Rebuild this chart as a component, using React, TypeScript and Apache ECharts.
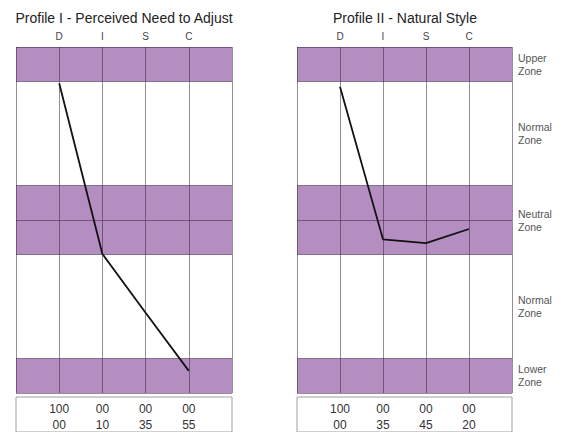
import React, { useEffect, useRef } from "react";
import * as echarts from "echarts";

const categories = ["D", "I", "S", "C"];
const zoneLabels = ["Upper\nZone", "Normal\nZone", "Neutral\nZone", "Normal\nZone", "Lower\nZone"];
const zonePositions = [0.5, 2.5, 5, 7.5, 9.5];
const bandRanges = [[0, 1], [4, 5], [5, 6], [9, 10]];
const gridLineLevels = [0, 1, 4, 5, 6, 9, 10];
const columnLines = [0, 1, 2, 3, 4, 5];

const profile1 = [1.05, 5.98, 7.68, 9.36];
const profile2 = [1.15, 5.56, 5.67, 5.26];

const profile1Row1 = ["100", "00", "00", "00"];
const profile1Row2 = ["00", "10", "35", "55"];
const profile2Row1 = ["100", "00", "00", "00"];
const profile2Row2 = ["00", "35", "45", "20"];

const titles = ["Profile I - Perceived Need to Adjust", "Profile II - Natural Style"];

const FONT = "'Liberation Sans', Arial, sans-serif";
const PURPLE = "#b48ec0";
const GRIDLINE = "rgba(50,25,55,0.5)";

export default function App() {
  const ref = useRef<HTMLDivElement>(null);

  useEffect(() => {
    if (!ref.current) return;
    const chart = echarts.init(ref.current, undefined, { renderer: "svg" });

    const grids = [
      { left: 16, top: 47, width: 216, height: 346 },
      { left: 297, top: 47, width: 215, height: 346 },
      { left: 16, top: 397, width: 216, height: 50, show: true, borderColor: "#a0a0a0", borderWidth: 1, backgroundColor: "#fff" },
      { left: 297, top: 397, width: 215, height: 50, show: true, borderColor: "#a0a0a0", borderWidth: 1, backgroundColor: "#fff" },
    ];

    const rows = [
      [profile1Row1, profile1Row2],
      [profile2Row1, profile2Row2],
    ];

    const xAxes: any[] = [];
    const yAxes: any[] = [];
    for (let g = 0; g < 2; g++) {
      xAxes.push({
        type: "value",
        gridIndex: g,
        position: "top",
        min: 0,
        max: 5,
        interval: 1,
        axisLine: { show: false },
        axisTick: { show: false },
        splitLine: { show: false },
        axisLabel: {
          margin: 6,
          fontSize: 10,
          color: "#444",
          fontFamily: FONT,
          formatter: (v: number) => categories[v - 1] ?? "",
        },
      });
      yAxes.push({
        type: "value",
        gridIndex: g,
        inverse: true,
        min: 0,
        max: 10,
        position: "right",
        axisLine: { show: false },
        axisTick: { show: false },
        splitLine: { show: false },
        axisLabel:
          g === 1
            ? {
                show: true,
                customValues: zonePositions,
                margin: 6,
                fontSize: 10.5,
                lineHeight: 13,
                color: "#555",
                fontFamily: FONT,
                align: "left",
                formatter: (v: number) => {
                  const i = zonePositions.indexOf(v);
                  return i >= 0 ? zoneLabels[i] : "";
                },
              }
            : { show: false },
      });
    }
    for (let g = 0; g < 2; g++) {
      const [r1, r2] = rows[g];
      xAxes.push({
        type: "value",
        gridIndex: g + 2,
        position: "top",
        min: 0,
        max: 5,
        interval: 1,
        axisLine: { show: false },
        axisTick: { show: false },
        splitLine: { show: false },
        axisLabel: {
          inside: true,
          margin: 4,
          fontSize: 12,
          lineHeight: 16,
          color: "#333",
          fontFamily: FONT,
          formatter: (v: number) => (r1[v - 1] !== undefined ? r1[v - 1] + "\n" + r2[v - 1] : ""),
        },
      });
      yAxes.push({ type: "value", gridIndex: g + 2, show: false, min: 0, max: 1 });
    }

    const series: any[] = [];
    const profiles = [profile1, profile2];
    for (let g = 0; g < 2; g++) {
      series.push({
        type: "line",
        xAxisIndex: g,
        yAxisIndex: g,
        data: [],
        z: 1,
        silent: true,
        markArea: {
          silent: true,
          itemStyle: { color: PURPLE },
          data: bandRanges.map(([a, b]) => [{ yAxis: a }, { yAxis: b }]),
        },
      });
      series.push({
        type: "line",
        xAxisIndex: g,
        yAxisIndex: g,
        data: [],
        z: 2,
        silent: true,
        markLine: {
          silent: true,
          symbol: ["none", "none"],
          label: { show: false },
          lineStyle: { color: GRIDLINE, width: 1, type: "solid" },
          data: [
            ...gridLineLevels.map((y) => ({ yAxis: y })),
            ...columnLines.map((x) => ({ xAxis: x })),
          ],
        },
      });
      series.push({
        type: "line",
        xAxisIndex: g,
        yAxisIndex: g,
        z: 3,
        symbol: "none",
        lineStyle: { color: "#111", width: 1.8 },
        data: profiles[g].map((v, i) => [i + 1, v]),
      });
    }

    chart.setOption({
      animation: false,
      backgroundColor: "#fff",
      title: [
        {
          text: titles[0],
          left: 124,
          top: 11,
          padding: 0,
          textAlign: "center",
          textStyle: { fontSize: 14, fontWeight: "normal", color: "#222", fontFamily: FONT },
        },
        {
          text: titles[1],
          left: 405,
          top: 11,
          padding: 0,
          textAlign: "center",
          textStyle: { fontSize: 14, fontWeight: "normal", color: "#222", fontFamily: FONT },
        },
      ],
      grid: grids,
      xAxis: xAxes,
      yAxis: yAxes,
      series,
    });

    return () => chart.dispose();
  }, []);

  return (
    <div
      ref={ref}
      style={{ position: "fixed", left: 0, top: 0, width: 564, height: 432 }}
    />
  );
}
